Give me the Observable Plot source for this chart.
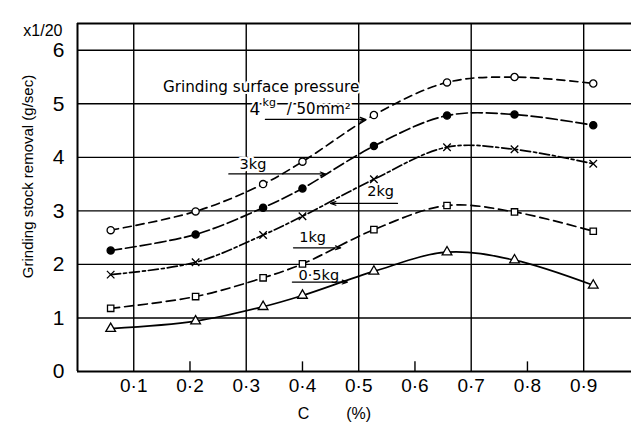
<!DOCTYPE html>
<html><head><meta charset="utf-8">
<script src="https://cdn.jsdelivr.net/npm/d3@7"></script>
<script src="https://cdn.jsdelivr.net/npm/@observablehq/plot@0.6"></script>
<style>body{margin:0;background:#fff} svg{display:block}</style>
</head><body><div id="chart"></div>
<script>
// C content (%) of the tested steels
const carbon = [0.059, 0.21, 0.33, 0.40, 0.527, 0.657, 0.777, 0.917];
// Grinding stock removal (g/sec, x1/20) per grinding surface pressure
const p4kg  = [2.64, 2.99, 3.50, 3.92, 4.79, 5.40, 5.50, 5.38];
const p3kg  = [2.26, 2.56, 3.06, 3.42, 4.21, 4.78, 4.80, 4.60];
const p2kg  = [1.81, 2.04, 2.55, 2.90, 3.59, 4.19, 4.15, 3.88];
const p1kg  = [1.18, 1.40, 1.75, 2.01, 2.65, 3.10, 2.98, 2.62];
const p05kg = [0.80, 0.94, 1.21, 1.42, 1.87, 2.23, 2.08, 1.61];

const xTicks = [0.1, 0.2, 0.3, 0.4, 0.5, 0.6, 0.7, 0.8, 0.9];
const xTickLabels = ["0·1", "0·2", "0·3", "0·4", "0·5", "0·6", "0·7", "0·8", "0·9"];
const yTicks = [0, 1, 2, 3, 4, 5, 6];
const xGrid = [0.1, 0.3, 0.5, 0.7, 0.9];
const xMinor = [0.2, 0.4, 0.6, 0.8];
const yGrid = [1, 2, 3, 4, 5, 6];

const series = [
  {name: "4kg", values: p4kg, symbol: "circle", fill: "white", dash: "8,5"},
  {name: "3kg", values: p3kg, symbol: "circle", fill: "black", dash: "11,4"},
  {name: "2kg", values: p2kg, symbol: "times", fill: "none", dash: "10,3,3,3"},
  {name: "1kg", values: p1kg, symbol: "square", fill: "white", dash: "9,5"},
  {name: "0.5kg", values: p05kg, symbol: "triangle", fill: "white", dash: null}
];

// annotation labels (data coordinates)
const labels = [
  {t: "Grinding surface pressure", x: 0.152, y: 5.32, s: 15.2, a: "start"},
  {t: "4", x: 0.306, y: 4.90, s: 17, a: "start"},
  {t: "kg", x: 0.329, y: 5.03, s: 11, a: "start"},
  {t: "/ 50mm²", x: 0.372, y: 4.90, s: 15, a: "start"},
  {t: "3kg", x: 0.312, y: 3.86, s: 14.5, a: "middle"},
  {t: "2kg", x: 0.539, y: 3.37, s: 14.5, a: "middle"},
  {t: "1kg", x: 0.418, y: 2.51, s: 14.5, a: "middle"},
  {t: "0·5kg", x: 0.429, y: 1.79, s: 14.5, a: "middle"}
];
const arrows = [
  {x1: 0.334, x2: 0.512, y: 4.71},
  {x1: 0.269, x2: 0.441, y: 3.69},
  {x1: 0.569, x2: 0.450, y: 3.14},
  {x1: 0.384, x2: 0.468, y: 2.31},
  {x1: 0.382, x2: 0.480, y: 1.67}
];

const rows = series.flatMap(s => s.values.map((v, i) => ({series: s.name, c: carbon[i], v})));
const font = "Liberation Sans, Arial, sans-serif";
const annFont = "DejaVu Sans, sans-serif";

const marks = [
  Plot.ruleY(yGrid, {stroke: "black", strokeWidth: 1.4}),
  Plot.ruleX(xGrid, {stroke: "black", strokeWidth: 1.4}),
  Plot.ruleX(xMinor, {y1: 0, y2: 0.18, stroke: "black", strokeWidth: 1.4}),
  Plot.ruleX([0], {stroke: "black", strokeWidth: 2}),
  Plot.ruleY([0, 6.5], {stroke: "black", strokeWidth: 2}),
  Plot.axisX(xTicks, {tickSize: 0, tickPadding: 7, fontSize: 19, label: null,
    tickFormat: d => xTickLabels[xTicks.indexOf(d)]}),
  Plot.axisY(yTicks, {tickSize: 0, tickPadding: 13, fontSize: 21, label: null,
    tickFormat: d => String(d)}),
  Plot.text(["Grinding stock removal (g/sec)"], {frameAnchor: "left", textAnchor: "middle",
    rotate: -90, dx: -49, dy: -21, fontSize: 15}),
  Plot.text(["x1/20"], {frameAnchor: "top-left", textAnchor: "end", dx: -15, dy: 1, fontSize: 16}),
  Plot.text(["C"], {x: [0.402], frameAnchor: "bottom", dy: 47, fontSize: 16}),
  Plot.text(["(%)"], {x: [0.500], frameAnchor: "bottom", dy: 47, fontSize: 16}),
  Plot.text(labels, {x: "x", y: "y", text: "t", fontSize: d => d.s, textAnchor: "start",
    fontFamily: annFont, filter: d => d.a === "start", stroke: "white", strokeWidth: 4, fill: "black"}),
  Plot.text(labels, {x: "x", y: "y", text: "t", fontSize: d => d.s, textAnchor: "middle",
    fontFamily: annFont, filter: d => d.a === "middle", stroke: "white", strokeWidth: 5, fill: "black"}),
];
for (const s of series) {
  const d = rows.filter(r => r.series === s.name);
  marks.push(Plot.line(d, {x: "c", y: "v", curve: "catmull-rom", stroke: "black",
    strokeWidth: 1.7, strokeDasharray: s.dash || undefined}));
}
marks.push(Plot.arrow(arrows, {x1: "x1", x2: "x2", y1: "y", y2: "y", stroke: "black",
  strokeWidth: 1.2, headLength: 7, headAngle: 40}));
for (const s of series) {
  const d = rows.filter(r => r.series === s.name);
  marks.push(Plot.dot(d, {x: "c", y: "v", symbol: () => s.symbol, fill: s.fill,
    stroke: "black", strokeWidth: 1.3, r: s.symbol === "times" ? 3.5 : 3.6}));
}

const chart = Plot.plot({
  width: 631, height: 426,
  marginLeft: 77, marginRight: 0, marginTop: 23, marginBottom: 55,
  style: {fontFamily: font, background: "white", color: "black"},
  x: {domain: [0, 0.985]},
  y: {domain: [0, 6.5]},
  symbol: {type: "identity"},
  marks
});
document.getElementById("chart").append(chart);
</script>
</body></html>
